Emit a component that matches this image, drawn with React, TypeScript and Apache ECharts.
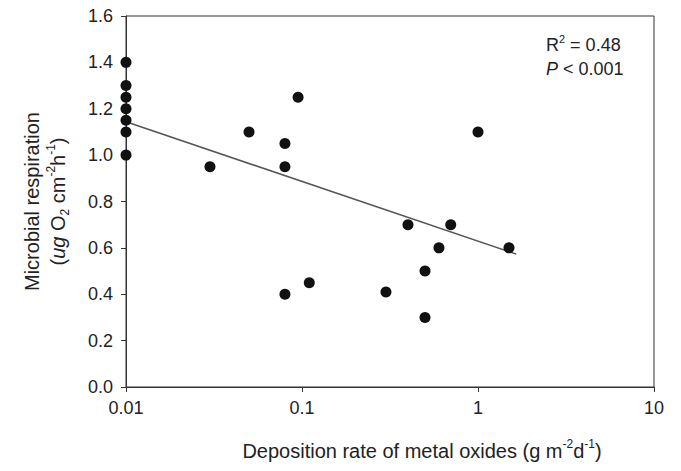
import React, { useEffect, useRef } from "react";
import * as echarts from "echarts";

// Scatter data: deposition rate of metal oxides (g m-2 d-1) vs microbial respiration
const depositionRate = [
  0.01, 0.01, 0.01, 0.01, 0.01, 0.01, 0.01,
  0.03, 0.05, 0.08, 0.08, 0.095, 0.08, 0.11,
  0.3, 0.4, 0.5, 0.5, 0.6, 0.7, 1.0, 1.5,
];
const respiration = [
  1.4, 1.3, 1.25, 1.2, 1.15, 1.1, 1.0,
  0.95, 1.1, 1.05, 0.95, 1.25, 0.4, 0.45,
  0.41, 0.7, 0.5, 0.3, 0.6, 0.7, 1.1, 0.6,
];

// Regression line end points (x, y)
const fitX = [0.01, 1.65];
const fitY = [1.144, 0.573];

const xTickLabels = ["0.01", "0.1", "1", "10"];
const yMin = 0;
const yMax = 1.6;
const yInterval = 0.2;

const FONT = "Liberation Sans, Arial, Helvetica, sans-serif";
const TEXT = "#222";
const LINE = "#333";

export default function App() {
  const ref = useRef<HTMLDivElement>(null);

  useEffect(() => {
    if (!ref.current) return;
    const chart = echarts.init(ref.current, null, { renderer: "svg" });
    const points = depositionRate.map((x, i) => [x, respiration[i]]);
    const fit = fitX.map((x, i) => [x, fitY[i]]);

    chart.setOption({
      animation: false,
      backgroundColor: "#fff",
      textStyle: { fontFamily: FONT },
      grid: {
        left: 126,
        top: 16,
        right: 27,
        bottom: 84,
        show: true,
        borderColor: LINE,
        borderWidth: 1,
        backgroundColor: "transparent",
      },
      xAxis: {
        type: "log",
        logBase: 10,
        min: 0.01,
        max: 10,
        axisLine: { lineStyle: { color: LINE, width: 1 } },
        axisTick: { show: true, length: 5, lineStyle: { color: LINE } },
        splitLine: { show: false },
        minorTick: { show: false },
        axisLabel: {
          color: TEXT,
          fontSize: 18,
          fontFamily: FONT,
          margin: 12,
          formatter: (v: number) => {
            const s = String(Number(v.toPrecision(3)));
            const hit = xTickLabels.find((t) => Number(t) === Number(s));
            return hit ?? s;
          },
        },
      },
      yAxis: {
        type: "value",
        min: yMin,
        max: yMax,
        interval: yInterval,
        axisLine: { show: true, lineStyle: { color: LINE, width: 1 } },
        axisTick: { show: true, length: 5, lineStyle: { color: LINE } },
        splitLine: { show: false },
        axisLabel: {
          color: TEXT,
          fontSize: 18,
          fontFamily: FONT,
          margin: 13,
          formatter: (v: number) => v.toFixed(1),
        },
        name: "Microbial respiration\n({i|ug} O{sub|2} cm{sup|-2}h{sup|-1})",
        nameLocation: "middle",
        nameRotate: 90,
        nameGap: 55,
        nameTextStyle: {
          color: TEXT,
          fontSize: 20,
          fontFamily: FONT,
          lineHeight: 26,
          rich: {
            i: { fontSize: 20, fontStyle: "italic", lineHeight: 26, color: TEXT, fontFamily: FONT },
            sub: { fontSize: 12, lineHeight: 26, verticalAlign: "bottom", color: TEXT, fontFamily: FONT },
            sup: { fontSize: 12, lineHeight: 26, verticalAlign: "top", color: TEXT, fontFamily: FONT },
          },
        },
      },
      graphic: [
        {
          type: "text",
          x: 422,
          y: 451,
          style: {
            text: "Deposition rate of metal oxides (g m{sup|-2}d{sup|-1})",
            fill: TEXT,
            fontSize: 20,
            fontFamily: FONT,
            lineHeight: 26,
            align: "center",
            verticalAlign: "middle",
            rich: {
              sup: { fontSize: 12, lineHeight: 26, verticalAlign: "top", fill: TEXT, fontFamily: FONT },
            },
          },
        },
        {
          type: "text",
          left: 546,
          top: 33,
          style: {
            text: "R{sup|2} = 0.48\n{i|P} < 0.001",
            fill: TEXT,
            fontSize: 18,
            fontFamily: FONT,
            lineHeight: 24,
            rich: {
              sup: { fontSize: 11, lineHeight: 24, verticalAlign: "top", fill: TEXT, fontFamily: FONT },
              i: { fontSize: 18, fontStyle: "italic", lineHeight: 24, fill: TEXT, fontFamily: FONT },
            },
          },
        },
      ],
      series: [
        {
          type: "line",
          data: fit,
          symbol: "none",
          lineStyle: { color: "#555", width: 1.5 },
          z: 1,
        },
        {
          type: "scatter",
          data: points,
          symbol: "circle",
          symbolSize: 11,
          itemStyle: { color: "#111", opacity: 1 },
          z: 2,
        },
      ],
    });

    return () => chart.dispose();
  }, []);

  return (
    <div
      ref={ref}
      style={{ position: "fixed", left: 0, top: 0, width: 681, height: 471 }}
    />
  );
}
